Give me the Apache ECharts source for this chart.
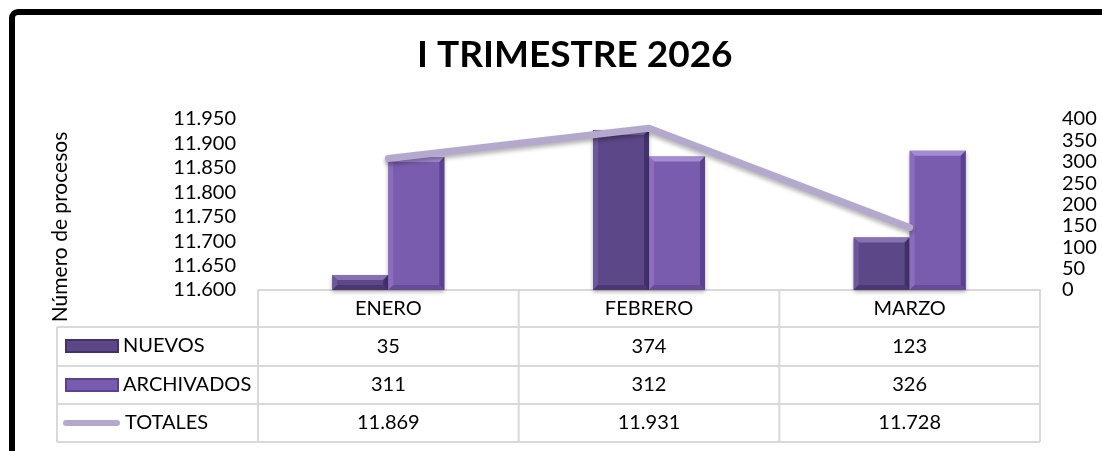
<!DOCTYPE html>
<html>
<head>
<meta charset="utf-8">
<script src="https://cdn.jsdelivr.net/npm/echarts@6/dist/echarts.min.js"></script>
<style>
html,body{margin:0;padding:0;background:#fff;}
#chart{width:1102px;height:451px;}
</style>
</head>
<body>
<div id="chart"></div>
<script>
// datos del trimestre
var categorias = ['ENERO', 'FEBRERO', 'MARZO'];
var nuevos = [35, 374, 123];
var archivados = [311, 312, 326];
var totales = [11869, 11931, 11728];

var fuente = 'Lato';

function miles(n){
	return String(n).replace(/\B(?=(\d{3})+(?!\d))/g, '.');
}

// zona del grafico
var gL = 258, gR = 1040, gT = 119, gB = 290;
var filas = [290, 327, 366, 404, 442];
var tablaIzq = 57;
var lineaTabla = '#d9d9d9';
var anchoBarra = 56;

var graficos = [];
// marco negro
graficos.push({
	type: 'rect', shape: {x: 12, y: 12, width: 1200, height: 600, r: 6},
	style: {fill: null, stroke: '#000', lineWidth: 6}, z: 10
});
// lineas horizontales de la tabla
for (var i = 1; i < filas.length; i++) {
	graficos.push({
		type: 'line', shape: {x1: tablaIzq, y1: filas[i], x2: gR, y2: filas[i]},
		style: {stroke: lineaTabla, lineWidth: 2}
	});
}
// lineas verticales de la tabla
var ancho = (gR - gL) / categorias.length;
for (var j = 0; j <= categorias.length; j++) {
	graficos.push({
		type: 'line', shape: {x1: gL + ancho * j, y1: gB, x2: gL + ancho * j, y2: filas[4]},
		style: {stroke: lineaTabla, lineWidth: 2}
	});
}
graficos.push({
	type: 'line', shape: {x1: tablaIzq, y1: filas[1], x2: tablaIzq, y2: filas[4]},
	style: {stroke: lineaTabla, lineWidth: 2}
});
// titulo del eje
graficos.push({
	type: 'text', x: 60, y: 227, rotation: Math.PI / 2,
	style: {text: 'Número de procesos', font: '21px ' + fuente, fill: '#000', align: 'center', verticalAlign: 'middle'}
});

// barra con bisel (estilo excel)
function barraBisel(colores, lado){
	return function (params, api) {
		var idx = api.value(0);
		var base = api.coord([idx, 0]);
		var tope = api.coord([idx, api.value(1)]);
		var x0 = lado < 0 ? base[0] - anchoBarra : base[0];
		var x1 = x0 + anchoBarra;
		var y0 = tope[1], y1 = base[1];
		var b = Math.min(5, (y1 - y0) / 2);
		return {
			type: 'group',
			children: [{
				type: 'rect', shape: {x: x0, y: y0, width: anchoBarra, height: y1 - y0},
				style: {fill: colores[0], shadowColor: 'rgba(0,0,0,0.3)', shadowBlur: 4, shadowOffsetY: 2}
			}, {
				type: 'polygon', shape: {points: [[x0, y0], [x1, y0], [x1 - b, y0 + b], [x0 + b, y0 + b]]},
				style: {fill: colores[1]}
			}, {
				type: 'polygon', shape: {points: [[x0, y0], [x0 + b, y0 + b], [x0 + b, y1 - b], [x0, y1]]},
				style: {fill: colores[2]}
			}, {
				type: 'polygon', shape: {points: [[x1, y0], [x1, y1], [x1 - b, y1 - b], [x1 - b, y0 + b]]},
				style: {fill: colores[3]}
			}, {
				type: 'polygon', shape: {points: [[x0, y1], [x1, y1], [x1 - b, y1 - b], [x0 + b, y1 - b]]},
				style: {fill: colores[4]}
			}]
		};
	};
}

function leyenda(nombre, top, icono, w, h, left){
	return {
		data: [{name: nombre, icon: icono}],
		left: left, top: top, padding: 0,
		itemWidth: w, itemHeight: h, itemGap: 6,
		selectedMode: false,
		textStyle: {fontFamily: fuente, fontSize: 20, color: '#000', lineHeight: 20, padding: [0, 0, 0, 0]}
	};
}

var colNuevos = ['#5c4788', '#8672b0', '#6b579a', '#43326a', '#4a3872'];
var colArchivados = ['#7a5cae', '#a28dd2', '#8a6dbd', '#5b4290', '#654b98'];

var option = {
	backgroundColor: '#fff',
	animation: false,
	title: {
		text: 'I TRIMESTRE 2026', left: 412, top: 32,
		textStyle: {fontFamily: fuente, fontSize: 37, fontWeight: 'bold', color: '#000'}
	},
	legend: [
		leyenda('NUEVOS', 336, 'rect', 52, 12, 65),
		leyenda('ARCHIVADOS', 375, 'rect', 52, 12, 65),
		leyenda('TOTALES', 413, 'path://M3,0 L54,0 A3,3 0 0 1 54,6 L3,6 A3,3 0 0 1 3,0 Z', 57, 7, 63)
	],
	grid: {left: gL, right: 1102 - gR, top: gT, bottom: 451 - gB},
	xAxis: {
		type: 'category',
		data: categorias,
		axisTick: {show: false},
		axisLine: {lineStyle: {color: lineaTabla, width: 2}},
		axisLabel: {
			margin: 0, fontFamily: fuente, fontSize: 20, color: '#000', lineHeight: 38,
			formatter: function (v, idx) {
				return [v, nuevos[idx], archivados[idx], miles(totales[idx])].join('\n');
			}
		}
	},
	yAxis: [{
		type: 'value', min: 11600, max: 11950, interval: 50,
		axisLine: {show: false}, axisTick: {show: false}, splitLine: {show: false},
		axisLabel: {margin: 22, fontFamily: fuente, fontSize: 20, color: '#000', formatter: miles}
	}, {
		type: 'value', min: 0, max: 400, interval: 50,
		axisLine: {show: false}, axisTick: {show: false}, splitLine: {show: false},
		axisLabel: {margin: 22, fontFamily: fuente, fontSize: 20, color: '#000'}
	}],
	series: [{
		name: 'NUEVOS', type: 'custom', yAxisIndex: 1,
		renderItem: barraBisel(colNuevos, -1),
		itemStyle: {color: colNuevos[0], borderColor: colNuevos[3], borderWidth: 1},
		encode: {x: 0, y: 1},
		data: nuevos.map(function (v, k) { return [k, v]; })
	}, {
		name: 'ARCHIVADOS', type: 'custom', yAxisIndex: 1,
		renderItem: barraBisel(colArchivados, 1),
		itemStyle: {color: colArchivados[0], borderColor: colArchivados[3], borderWidth: 1},
		encode: {x: 0, y: 1},
		data: archivados.map(function (v, k) { return [k, v]; })
	}, {
		name: 'TOTALES', type: 'line', yAxisIndex: 0,
		showSymbol: false, symbol: 'none',
		itemStyle: {color: '#b4a9cd'},
		lineStyle: {color: '#b4a9cd', width: 7, cap: 'round', join: 'round',
			shadowColor: 'rgba(0,0,0,0.3)', shadowBlur: 4, shadowOffsetY: 3},
		z: 5,
		data: totales
	}],
	graphic: graficos
};

var myChart = echarts.init(document.getElementById('chart'));
myChart.setOption(option);
</script>
</body>
</html>
